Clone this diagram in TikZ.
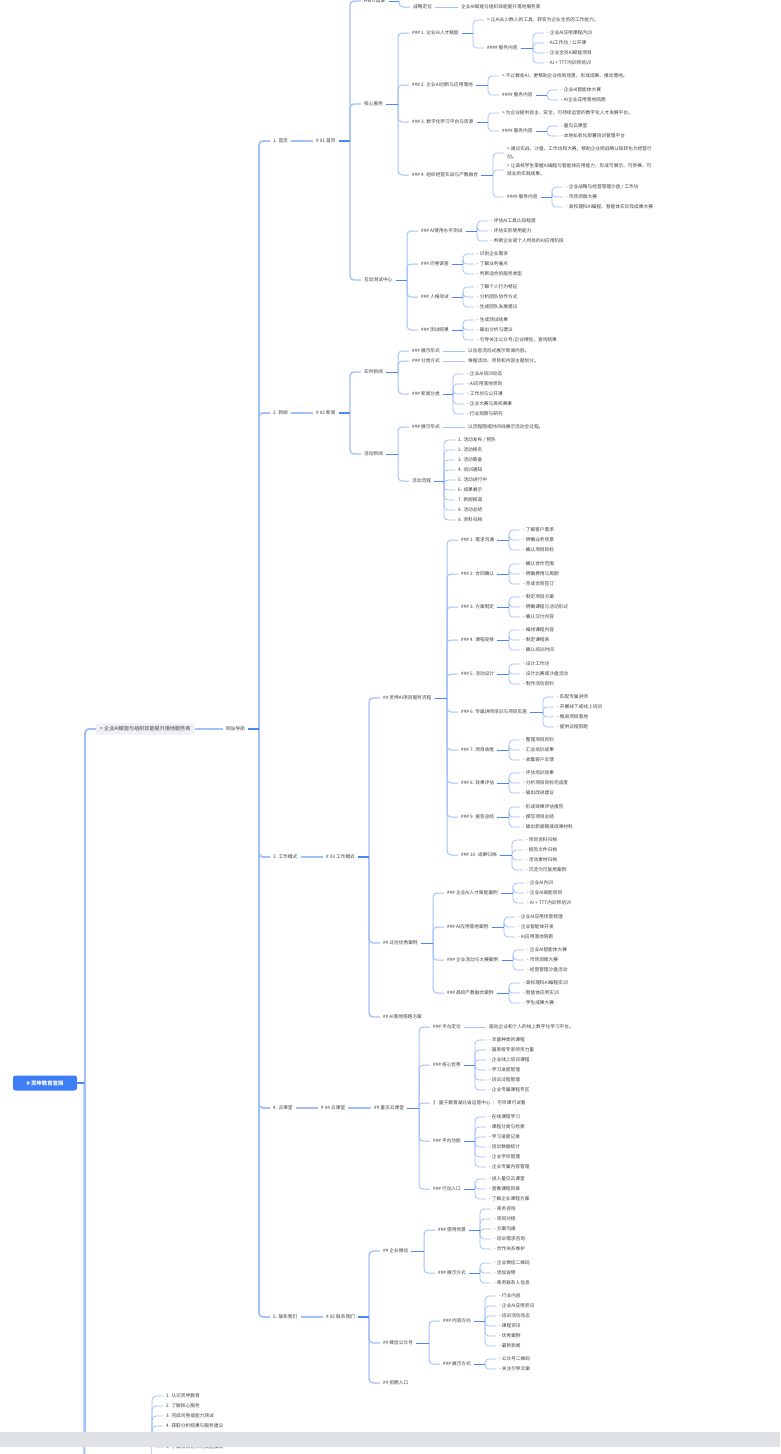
\documentclass[tikz,border=0pt]{standalone}
\usepackage{fontspec}
\setmainfont{Noto Sans CJK SC}
\usetikzlibrary{calc}

\definecolor{linkblue}{HTML}{A3C0F9}
\definecolor{trunkblue}{HTML}{4D86F6}
\definecolor{rootblue}{HTML}{3D7DF6}
\definecolor{boxgray}{HTML}{EEF0F3}
\definecolor{inkgray}{HTML}{404040}
\definecolor{bargray}{HTML}{E1E2E5}

\tikzset{
  txt/.style={anchor=west, xshift=-3pt, inner xsep=3pt, inner ysep=1pt, text=inkgray,
    font=\fontsize{4.7}{5.6}\selectfont},
  txtwrap/.style={txt, align=left, font=\fontsize{4.7}{8}\selectfont},
  rootbox/.style={fill=rootblue, text=white, rounded corners=2.5pt, minimum width=64pt,
    minimum height=15pt, font=\fontsize{5.4}{6}\selectfont\bfseries},
  tagbox/.style={anchor=west, fill=boxgray, rounded corners=2pt, inner xsep=4pt,
    minimum height=11pt, text=inkgray, font=\fontsize{5.1}{6}\selectfont},
  conn/.style={draw=linkblue, line width=#1, rounded corners=4pt},
  conn/.default=0.8pt,
  trunk/.style={draw=trunkblue, line width=#1},
  trunk/.default=0.8pt
}

% parent -> child, spine 11pt left of the child
\newcommand{\lnk}[3][0.8pt]{%
  \draw[conn=#1] ($(#2.east -| #3.west)+(-11,0)$) |- (#3.west);
  \draw[trunk=#1] (#2.east) -- ($(#2.east -| #3.west)+(-11,0)$);}
% straight single link
\newcommand{\slnk}[3][0.8pt]{\draw[conn=#1] (#2.east) -- (#3.west);}
% list of leaves, 10pt apart
\newcommand{\leaves}[4]{%
  \edef\lvlist{#4}%
  \foreach \e [count=\i] in \lvlist {
    \node[txt] (#1-\i) at (#2,#3+10*\i-10) {\e};
    \lnk{#1}{#1-\i}
  }}

\begin{document}
\begin{tikzpicture}[x=1pt, y=-1pt]
    \useasboundingbox (0,0) rectangle (780,1454);
    \fill[white] (0,0) rectangle (780,1454);

    % Root
    \node[rootbox] (root) at (45,1083) {\# 灵坤教育官网};
    \node[tagbox] (slogan) at (96,729) {> 企业AI赋能与组织效能提升落地服务商};
    \node[tagbox, minimum width=47pt] (route) at (96,1438) {用户行动路径};
    \node[inner sep=0pt] (rootmore) at (96,1480) {};
    \lnk[2pt]{root}{slogan}
    \lnk[2pt]{root}{route}
    \lnk[2pt]{root}{rootmore}

    % Site navigation
    \node[txt] (nav) at (226,729) {网站导航};
    \slnk[1.4pt]{slogan}{nav}
    \node[txt] (p1) at (273,141) {1. 首页};
    \node[txt] (p2) at (273,413) {2. 新闻};
    \node[txt] (p3) at (273,857) {3. 工作模式};
    \node[txt] (p4) at (273,1108) {4. 云课堂};
    \node[txt] (p5) at (273,1317) {5. 联系我们};
    \foreach \k in {1,...,5} \lnk[1.8pt]{nav}{p\k};
    \node[txt] (h1) at (316,141) {\# 01 首页};
    \node[txt] (h2) at (316,413) {\# 02 新闻};
    \node[txt] (h3) at (326,857) {\# 03 工作模式};
    \node[txt] (h4) at (321,1108) {\# 04 云课堂};
    \node[txt] (h5) at (326,1317) {\# 05 联系我们};
    \foreach \k in {1,...,5} \slnk[1.4pt]{p\k}{h\k};

    % 01 Home
    \node[txt] (hero) at (364,1) {Hero 首屏};
    \node[txt] (core) at (364,104) {核心服务};
    \node[txt] (test) at (364,280) {互动测试中心};
    \foreach \k in {hero,core,test} \lnk[1.4pt]{h1}{\k};
    \node[txt] (pos) at (413,7) {战略定位};
    \lnk[1pt]{hero}{pos}
    \node[txt] (posT) at (461,7) {企业AI赋能与组织效能提升落地服务商};
    \slnk{pos}{posT}

    \node[txt] (cs1) at (412,33) {\#\#\# 1. 企业AI人才赋能};
    \node[txt] (cs2) at (412,85) {\#\#\# 2. 企业AI创新与应用落地};
    \node[txt] (cs3) at (412,122) {\#\#\# 3. 数字化学习平台与资源};
    \node[txt] (cs4) at (412,175) {\#\#\# 4. 组织经营实战与产教融合};
    \foreach \k in {1,...,4} \lnk[1pt]{core}{cs\k};

    \node[txt] (cs1q) at (487,20) {> 让AI从少数人的工具，转变为企业全员的工作能力。};
    \node[txt] (cs1s) at (487,48) {\#\#\#\# 服务内容};
    \lnk{cs1}{cs1q} \lnk{cs1}{cs1s}
    \leaves{cs1s}{547}{33}{- 企业AI应用课程内训, {- AI工作坊 / 公开课}, - 企业全员AI赋能项目, - AI + TTT内训师培训}

    \node[txt] (cs2q) at (502,76) {> 不止教会AI，更帮助企业找到场景、形成成果、推动落地。};
    \node[txt] (cs2s) at (502,95) {\#\#\#\# 服务内容};
    \lnk{cs2}{cs2q} \lnk{cs2}{cs2s}
    \leaves{cs2s}{561}{90}{- 企业AI智能体大赛, - AI企业应用落地陪跑}

    \node[txt] (cs3q) at (502,113) {> 为企业提供自主、安全、可持续运营的数字化人才发展平台。};
    \node[txt] (cs3s) at (502,131) {\#\#\#\# 服务内容};
    \lnk{cs3}{cs3q} \lnk{cs3}{cs3s}
    \leaves{cs3s}{561}{126}{- 量见云课堂, - 本地私有化部署培训管理平台}

    \node[txtwrap] (cs4qa) at (507,153) {> 通过实战、沙盘、工作坊和大赛，帮助企业把战略认知转化为经营行\\动。};
    \node[txtwrap] (cs4qb) at (507,170) {> 让高校学生掌握AI编程与智能体应用能力，形成可展示、可参赛、可\\就业的实践成果。};
    \node[txt] (cs4s) at (507,197) {\#\#\#\# 服务内容};
    \lnk{cs4}{cs4qa} \lnk{cs4}{cs4qb} \lnk{cs4}{cs4s}
    \leaves{cs4s}{566}{187}{{- 企业战略与经营管理沙盘 / 工作坊}, - 市场洞察大赛, - 高校理科AI编程、智能体实训及成果大赛}

    \foreach \k/\y/\t in {1/231/AI使用水平测试, 2/264/问卷调查, 3/297/人格测试, 4/330/测试结果} {
        \node[txt] (ts\k) at (421,\y) {\#\#\# \t};
        \lnk[1pt]{test}{ts\k}
    }
    \leaves{ts1}{491}{221}{- 评估AI工具认知程度, - 评估实际使用能力, - 判断企业或个人所处的AI应用阶段}
    \leaves{ts2}{477}{254}{- 识别企业需求, - 了解业务痛点, - 判断适合的服务类型}
    \leaves{ts3}{477}{287}{- 了解个人行为特征, - 分析团队协作方式, - 生成团队发展建议}
    \leaves{ts4}{477}{320}{- 生成测试结果, - 输出分析与建议, {- 引导关注公众号/企业微信，查询结果}}

    % 02 News
    \node[txt] (rt) at (364,372) {实时新闻};
    \node[txt] (ev) at (364,454) {活动新闻};
    \lnk[1.4pt]{h2}{rt} \lnk[1.4pt]{h2}{ev}
    \node[txt] (rt1) at (412,351) {\#\#\# 展示形式};
    \node[txt] (rt2) at (412,361) {\#\#\# 分类方式};
    \node[txt] (rt3) at (412,394) {\#\#\# 新闻分类};
    \foreach \k in {1,2,3} \lnk[1pt]{rt}{rt\k};
    \node[txt] (rt1t) at (468,351) {以信息流形式展示新闻内容。};
    \node[txt] (rt2t) at (468,361) {根据活动、项目和内容主题划分。};
    \slnk{rt1}{rt1t} \slnk{rt2}{rt2t}
    \leaves{rt3}{467}{374}{- 企业AI培训动态, - AI应用落地项目, - 工作坊与公开课, - 企业大赛与高校赛事, - 行业观察与研究}
    \node[txt] (ev1) at (412,427) {\#\#\# 展示形式};
    \node[txt] (ev2) at (412,481) {活动流程};
    \lnk[1pt]{ev}{ev1} \lnk[1pt]{ev}{ev2}
    \node[txt] (ev1t) at (468,427) {以流程图或时间线展示活动全过程。};
    \slnk{ev1}{ev1t}
    \leaves{ev2}{458}{440}{{1. 活动发布 / 预热}, 2. 活动报名, 3. 活动筹备, 4. 培训通知, 5. 活动进行中, 6. 成果展示, 7. 新闻报道, 8. 活动总结, 9. 资料归档}

    % 03 Work mode
    \node[txt] (flow) at (383,698) {\#\# 灵坤AI项目服务流程};
    \node[txt] (cases) at (383,943) {\#\# 过往优秀案例};
    \node[txt] (plan) at (383,1017) {\#\# AI落地陪跑方案};
    \foreach \k in {flow,cases,plan} \lnk[1.4pt]{h3}{\k};
    \foreach \n/\y/\x/\s/\t/\lst in {
        1/540/523/530/{1. 需求沟通}/{- 了解客户需求, - 明确业务场景, - 确认项目目标},
        2/574/523/564/{2. 合同确认}/{- 确认合作范围, - 明确费用与周期, - 完成合同签订},
        3/607/523/597/{3. 方案制定}/{- 制定项目方案, - 明确课程与活动形式, - 确认交付内容},
        4/640/523/630/{4. 课程安排}/{- 编排课程内容, - 制定课程表, - 确认培训时间},
        5/674/523/664/{5. 活动设计}/{- 设计工作坊, - 设计比赛或沙盘活动, - 制作活动资料},
        6/712/557/697/{6. 专属讲师培训与项目实施}/{- 匹配专属讲师, - 开展线下或线上培训, - 推进项目落地, - 提供过程陪跑},
        7/750/523/740/{7. 项目收尾}/{- 整理项目资料, - 汇总培训成果, - 收集客户反馈},
        8/783/523/773/{8. 效果评估}/{- 评估培训效果, - 分析项目目标完成度, - 输出改进建议},
        9/817/523/807/{9. 报告总结}/{- 形成效果评估报告, - 撰写项目总结, - 输出新闻稿或成果材料},
        10/855/526/840/{10. 成果归档}/{- 项目资料归档, - 报告文件归档, - 活动素材归档, - 沉淀为可复用案例}} {
        \node[txt] (fl\n) at (461,\y) {\#\#\# \t};
        \lnk[1pt]{flow}{fl\n}
        \leaves{fl\n}{\x}{\s}{\lst}
    }
    \foreach \n/\y/\x/\t/\lst in {
        1/893/527/企业AI人才赋能案例/{- 企业AI内训, - 企业AI赋能项目, - AI + TTT内训师培训},
        2/927/518/AI应用落地案例/{- 企业AI应用场景梳理, - 企业智能体开发, - AI应用落地陪跑},
        3/960/527/企业活动与大赛案例/{- 企业AI智能体大赛, - 市场洞察大赛, - 经营管理沙盘活动},
        4/993/523/高校产教融合案例/{- 高校理科AI编程实训, - 智能体应用实训, - 学生成果大赛}} {
        \node[txt] (ca\n) at (447,\y) {\#\#\# \t};
        \lnk[1pt]{cases}{ca\n}
        \leaves{ca\n}{\x}{\y-10}{\lst}
    }

    % 04 Cloud classroom
    \node[txt] (cloud) at (374,1108) {\#\# 量见云课堂};
    \slnk[1.4pt]{h4}{cloud}
    \node[txt] (cl1) at (433,1027) {\#\#\# 平台定位};
    \node[txt] (cl2) at (433,1065) {\#\#\# 核心优势};
    \node[txt] (clq) at (433,1103) {》 量子教育湖北省运营中心 ｜ 可听课可试看};
    \node[txt] (cl3) at (433,1141) {\#\#\# 平台功能};
    \node[txt] (cl4) at (433,1189) {\#\#\# 行动入口};
    \foreach \k in {cl1,cl2,clq,cl3,cl4} \lnk[1pt]{cloud}{\k};
    \node[txt] (cl1t) at (489,1027) {面向企业和个人的线上数字化学习平台。};
    \slnk{cl1}{cl1t}
    \leaves{cl2}{489}{1040}{- 丰富种类的课程, - 国家级专家师资力量, - 企业线上培训课程, - 学习进度管理, - 培训过程管理, - 企业专属课程专区}
    \leaves{cl3}{489}{1117}{- 在线课程学习, - 课程分类与检索, - 学习进度记录, - 培训数据统计, - 企业学员管理, - 企业专属内容管理}
    \leaves{cl4}{489}{1179}{- 进入量见云课堂, - 查看课程目录, - 了解企业课程方案}

    % 05 Contact
    \node[txt] (wx) at (383,1251) {\#\# 企业微信};
    \node[txt] (mp) at (383,1343) {\#\# 微信公众号};
    \node[txt] (job) at (383,1383) {\#\# 招聘入口};
    \foreach \k in {wx,mp,job} \lnk[1.4pt]{h5}{\k};
    \node[txt] (wx1) at (438,1230) {\#\#\# 使用场景};
    \node[txt] (wx2) at (438,1273) {\#\#\# 展示方式};
    \lnk[1pt]{wx}{wx1} \lnk[1pt]{wx}{wx2}
    \leaves{wx1}{494}{1209}{- 商务咨询, - 项目对接, - 方案沟通, - 培训需求咨询, - 合作关系维护}
    \leaves{wx2}{494}{1263}{- 企业微信二维码, - 添加说明, - 商务联系人信息}
    \node[txt] (mp1) at (443,1321) {\#\#\# 内容方向};
    \node[txt] (mp2) at (443,1364) {\#\#\# 展示方式};
    \lnk[1pt]{mp}{mp1} \lnk[1pt]{mp}{mp2}
    \leaves{mp1}{499}{1296}{- 行业内容, - 企业AI应用资讯, - 培训活动动态, - 课程资讯, - 优秀案例, - 最新新闻}
    \leaves{mp2}{499}{1359}{- 公众号二维码, - 关注引导文案}

    % User route
    \leaves{route}{166}{1396}{1. 认识灵坤教育, 2. 了解核心服务, 3. 完成问卷或能力测试, 4. 获取分析结果与服务建议}
    \node[txt] (route-6) at (166,1447) {6. 了解项目合作与实施模式};
    \node[inner sep=0pt] (routemore) at (163,1475) {};
    \lnk{route}{route-6} \lnk{route}{routemore}

    % Scroll bar strip
    \fill[bargray] (0,1432) rectangle (780,1447);
\end{tikzpicture}
\end{document}
